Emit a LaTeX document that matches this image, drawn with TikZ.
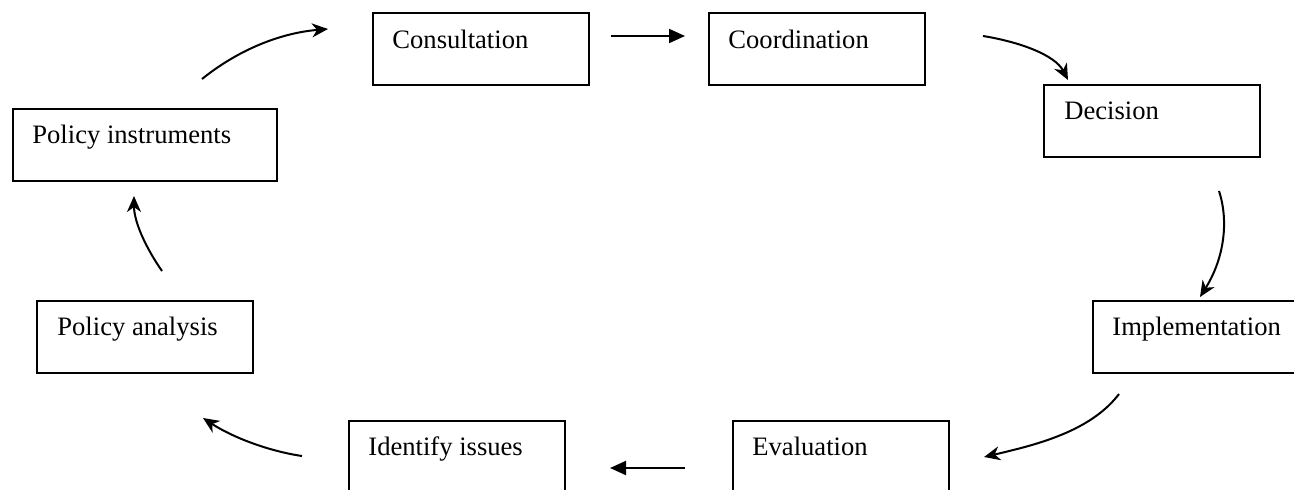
\documentclass[tikz,border=0pt]{standalone}
\usepackage{fontspec}
\setmainfont{Liberation Serif}
\usetikzlibrary{arrows.meta}
\tikzset{
  box/.style={draw, line width=1pt, rectangle, minimum width=108pt, minimum height=36pt, anchor=north west, inner sep=0pt},
  lbl/.style={anchor=base west, inner sep=0pt, font=\fontsize{13.3pt}{16pt}\selectfont},
  curv/.style={line width=1pt, -{Stealth[length=8pt,width=7pt,inset=2.5pt]}},
  strt/.style={line width=1pt, -{Triangle[length=8pt,width=7pt]}}
}
\begin{document}
\begin{tikzpicture}[x=0.5pt,y=-0.5pt]
\useasboundingbox (0,0) rectangle (1294,489);
\clip (0,0) rectangle (1294,489);
% boxes
\node[box] (cons) at (372,12) {};
\node[box] (coord) at (708,12) {};
\node[box] (dec) at (1043,84) {};
\node[box] (impl) at (1092,300) {};
\node[box] (eval) at (732,420) {};
\node[box] (ident) at (348,420) {};
\node[box] (pa) at (36,300) {};
\node[box, minimum width=132pt] (pi) at (12,108) {};
% labels
\node[lbl] (consT) at ([shift={(20,36)}]cons.north west) {Consultation};
\node[lbl] (coordT) at ([shift={(20,36)}]coord.north west) {Coordination};
\node[lbl] (decT) at ([shift={(21,35)}]dec.north west) {Decision};
\node[lbl] (implT) at ([shift={(20,35)}]impl.north west) {Implementation};
\node[lbl] (evalT) at ([shift={(20,35)}]eval.north west) {Evaluation};
\node[lbl] (identT) at ([shift={(20,35)}]ident.north west) {Identify issues};
\node[lbl] (paT) at ([shift={(21,35)}]pa.north west) {Policy analysis};
\node[lbl] (piT) at ([shift={(20,35)}]pi.north west) {Policy instruments};
% connector end points
\coordinate (a1s) at (202,79);  \coordinate (a1e) at (328,29);
\coordinate (a2s) at (611,36);  \coordinate (a2e) at (685,36);
\coordinate (a3s) at (983,36);  \coordinate (a3e) at (1068,80);
\coordinate (a4s) at (1219,191); \coordinate (a4e) at (1200,297);
\coordinate (a5s) at (1119,394); \coordinate (a5e) at (984,457);
\coordinate (a6s) at (685,468); \coordinate (a6e) at (610,468);
\coordinate (a7s) at (302,456); \coordinate (a7e) at (203,418);
\coordinate (a8s) at (162,271); \coordinate (a8e) at (134,196);
% connectors
\draw[curv] (a1s) .. controls (238,50) and (280,33) .. (a1e);
\draw[strt] (a2s) -- (a2e);
\draw[curv] (a3s) .. controls (1020,42) and (1055,55) .. (a3e);
\draw[curv] (a4s) .. controls (1230,225) and (1222,262) .. (a4e);
\draw[curv] (a5s) .. controls (1090,432) and (1035,445) .. (a5e);
\draw[strt] (a6s) -- (a6e);
\draw[curv] (a7s) .. controls (268,451) and (232,437) .. (a7e);
\draw[curv] (a8s) .. controls (146,248) and (134,222) .. (a8e);
\end{tikzpicture}
\end{document}
